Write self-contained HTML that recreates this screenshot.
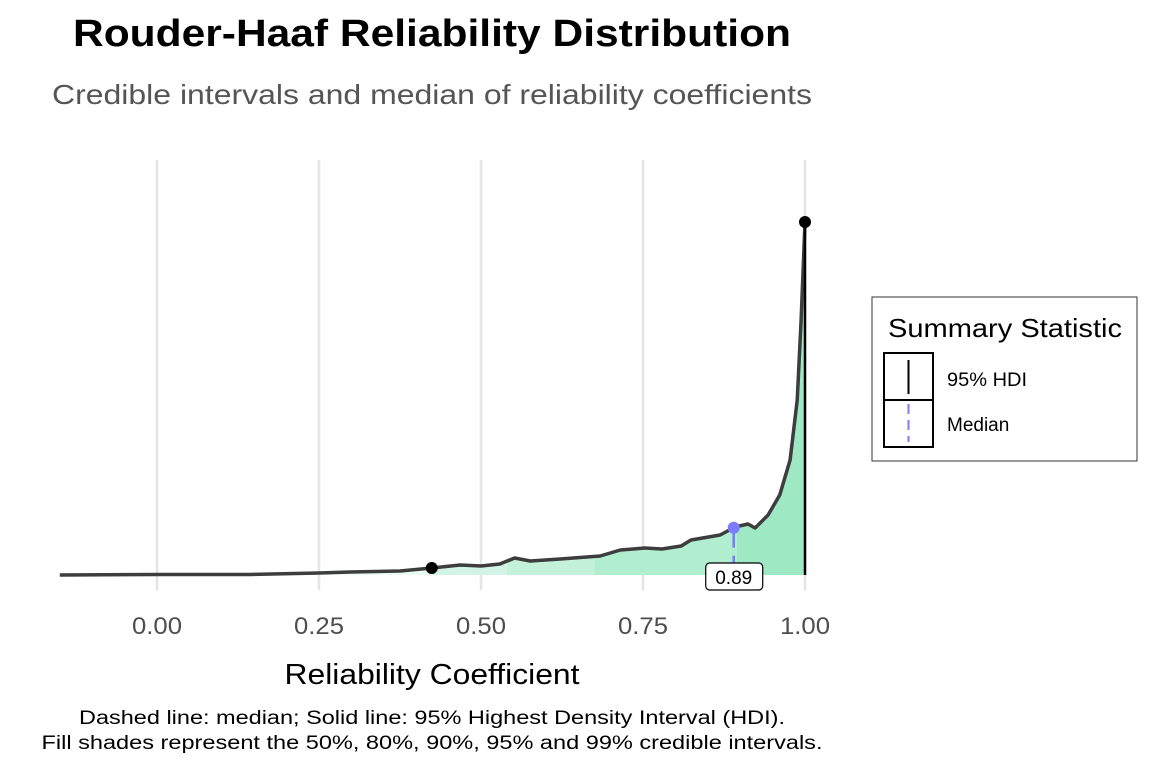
<!DOCTYPE html>
<html><head><meta charset="utf-8"><style>
body{margin:0;background:#fff;font-family:"Liberation Sans",sans-serif}
</style></head><body>
<svg width="1152" height="768" xmlns="http://www.w3.org/2000/svg" font-family="Liberation Sans, sans-serif">
<text x="432" y="46" text-anchor="middle" font-size="38" font-weight="bold" fill="#000" textLength="718" lengthAdjust="spacingAndGlyphs">Rouder-Haaf Reliability Distribution</text>
<text x="432" y="104" text-anchor="middle" font-size="28" fill="#555" textLength="760" lengthAdjust="spacingAndGlyphs">Credible intervals and median of reliability coefficients</text>
<g id="grid"></g>
<g id="fills"></g>
<g id="marks"></g>
<g id="ticks"></g>
<text x="432" y="684" text-anchor="middle" font-size="29" fill="#000" textLength="295" lengthAdjust="spacingAndGlyphs">Reliability Coefficient</text>
<text x="432" y="724" text-anchor="middle" font-size="19" textLength="706" lengthAdjust="spacingAndGlyphs">Dashed line: median; Solid line: 95% Highest Density Interval (HDI).</text>
<text x="432" y="749" text-anchor="middle" font-size="19" textLength="781" lengthAdjust="spacingAndGlyphs">Fill shades represent the 50%, 80%, 90%, 95% and 99% credible intervals.</text>
<g>
<rect x="872" y="297" width="265" height="164" fill="#fff" stroke="#333" stroke-width="1"/>
<text x="888" y="337" font-size="26" textLength="234" lengthAdjust="spacingAndGlyphs">Summary Statistic</text>
<g>
<rect x="884" y="353" width="49" height="47" fill="#fff" stroke="#000" stroke-width="2"/>
<line x1="908.5" y1="360" x2="908.5" y2="394" stroke="#000" stroke-width="2"/>
<text x="947" y="386" font-size="19" textLength="80" lengthAdjust="spacingAndGlyphs">95% HDI</text></g>
<g>
<rect x="884" y="400" width="49" height="47" fill="#fff" stroke="#000" stroke-width="2"/>
<line x1="908.5" y1="404" x2="908.5" y2="442" stroke="#7b7bff" stroke-width="2" stroke-dasharray="10,6"/>
<text x="947" y="431" font-size="19">Median</text></g>
</g>
</svg>
<script>
const xVals=[-0.15,0,0.144,0.25,0.298,0.375,0.424,0.468,0.5,0.529,0.552,0.576,0.622,0.684,0.715,0.753,0.779,0.809,0.824,0.869,0.892,0.912,0.923,0.943,0.961,0.977,0.988,0.994,1.0];
const density=[0,0.5,0.5,2,3,4,7,10,9,11,17,14,16,19,25,27,26,29,35,40,48,51,47,60,80,115,175,255,353];
const tickVals=[0,0.25,0.5,0.75,1.0];
const tickLabels=["0.00","0.25","0.50","0.75","1.00"];
const bandStarts=[-0.15,0.424,0.54,0.675,0.895];
const bandColors=["#ebfaf2","#d3f4e4","#c3f1da","#b1edcf","#9ee8c4"];
const hdi=[0.424,1.0];
const median=0.89;
const X=v=>157+v*648, Y=d=>575-d;
const NS="http://www.w3.org/2000/svg";
function mk(p,t,a){const e=document.createElementNS(NS,t);for(const k in a)e.setAttribute(k,a[k]);document.getElementById(p).appendChild(e);return e;}
function dens(v){for(let i=1;i<xVals.length;i++){if(v<=xVals[i]){const t=(v-xVals[i-1])/(xVals[i]-xVals[i-1]);return density[i-1]+t*(density[i]-density[i-1]);}}return density[density.length-1];}
tickVals.forEach((v,i)=>{
 const g=mk('grid','line',{x1:X(v),x2:X(v),y1:160,y2:590,stroke:'#e5e5e5','stroke-width':2.5});
 
 
 const t=mk('ticks','text',{x:X(v),y:634,'text-anchor':'middle','font-size':24,fill:'#4d4d4d',textLength:50,lengthAdjust:'spacingAndGlyphs'});t.textContent=tickLabels[i];
 
 
});
bandStarts.forEach((s,i)=>{
 const e=i<bandStarts.length-1?bandStarts[i+1]:1.0;
 let pts=[[X(s),Y(0)]];
 const xs=[s].concat(xVals.filter(v=>v>s&&v<e)).concat([e]);
 xs.forEach(v=>pts.push([X(v),Y(dens(v))]));
 pts.push([X(e),Y(0)]);
 const p=mk('fills','polygon',{points:pts.map(q=>q.join(',')).join(' '),fill:bandColors[i]});
 
 
});
const line=mk('marks','polyline',{points:xVals.map((v,i)=>X(v)+','+Y(density[i])).join(' '),fill:'none',stroke:'#3d3d3d','stroke-width':3.5,'stroke-linejoin':'round'});


const hl=mk('marks','line',{x1:X(hdi[1]),x2:X(hdi[1]),y1:Y(dens(hdi[1])),y2:Y(0),stroke:'#000','stroke-width':2.5});


hdi.forEach(v=>{const c=mk('marks','circle',{cx:X(v),cy:Y(dens(v)),r:6,fill:'#000'});
 
 });
const ml=mk('marks','line',{x1:X(median),x2:X(median),y1:Y(dens(median)),y2:Y(0),stroke:'#7b7bff','stroke-width':2.5,'stroke-dasharray':'20,8'});


const mc=mk('marks','circle',{cx:X(median),cy:Y(dens(median)),r:6,fill:'#7b7bff'});


const lb=mk('marks','rect',{x:X(median)-28,y:563,width:57,height:27,rx:4,fill:'#fff',stroke:'#000','stroke-width':1.2});


const lt=mk('marks','text',{x:X(median),y:584,'text-anchor':'middle','font-size':19});lt.textContent=median.toFixed(2);


</script>
</body></html>
